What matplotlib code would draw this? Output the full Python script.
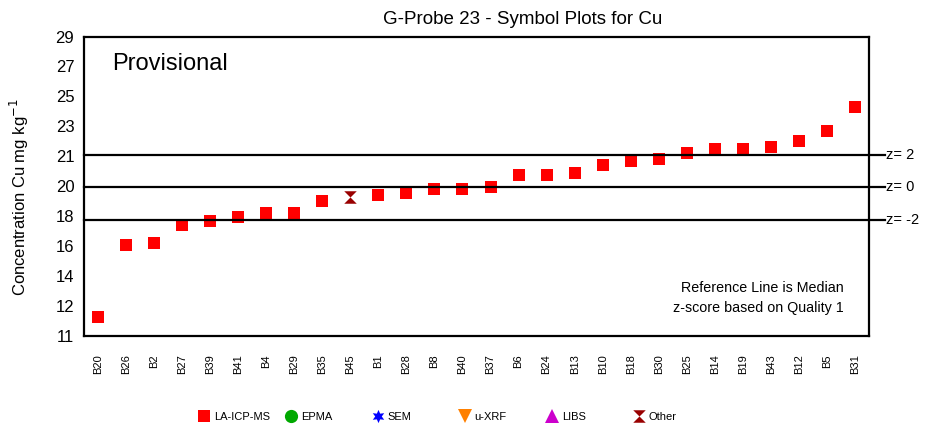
import numpy as np
import matplotlib.pyplot as plt
from matplotlib.path import Path
from matplotlib.lines import Line2D

plt.rcParams['font.family'] = ['Liberation Sans', 'DejaVu Sans']

labs = ['B20', 'B26', 'B2', 'B27', 'B39', 'B41', 'B4', 'B29', 'B35', 'B45',
        'B1', 'B28', 'B8', 'B40', 'B37', 'B6', 'B24', 'B13', 'B10', 'B18',
        'B30', 'B25', 'B14', 'B19', 'B43', 'B12', 'B5', 'B31']
vals = [12.16, 16.47, 16.61, 17.69, 17.93, 18.17, 18.41, 18.41, 19.13, 19.37,
        19.49, 19.59, 19.85, 19.85, 19.97, 20.69, 20.69, 20.81, 21.30, 21.54,
        21.66, 22.02, 22.26, 22.26, 22.38, 22.74, 23.34, 24.78]
method = ['LA-ICP-MS'] * len(vals)
method[9] = 'Other'

median = 19.95
z2 = 21.9
zm2 = 17.95

yticks = [11, 12.8, 14.6, 16.4, 18.2, 20, 21.8, 23.6, 25.4, 27.2, 29]
ytlabs = ['11', '12', '14', '16', '18', '20', '21', '23', '25', '27', '29']

# hourglass marker for "Other"
hg = Path([(-1, 1), (1, 1), (0, 0), (1, -1), (-1, -1), (0, 0), (-1, 1)],
          [1, 2, 2, 2, 2, 2, 79])

styles = {'LA-ICP-MS': dict(marker='s', color='#ff0000', ms=8.6),
          'EPMA': dict(marker='o', color='#00a800', ms=9.5),
          'SEM': dict(marker=(6, 1, 0), color='#0000ff', ms=9.5),
          'u-XRF': dict(marker='v', color='#ff8000', ms=10),
          'LIBS': dict(marker='^', color='#cc00cc', ms=10),
          'Other': dict(marker=hg, color='#990000', ms=9)}

fig = plt.figure(figsize=(9.25, 4.30), dpi=100)
ax = fig.add_axes([0.0908, 0.2186, 0.8487, 0.6964])

x = np.arange(len(vals))
for i in range(len(vals)):
    st = styles[method[i]]
    ax.plot(x[i], vals[i], linestyle='none', marker=st['marker'], color=st['color'],
            markersize=st['ms'], markeredgewidth=0)

for yv, t in [(z2, 'z= 2'), (median, 'z= 0'), (zm2, 'z= -2')]:
    ax.axhline(yv, xmin=0, xmax=1.02, color='black', lw=1.6, clip_on=False)
    ax.text(1.021, yv, t, transform=ax.get_yaxis_transform(), va='center',
            ha='left', fontsize=10.5)

ax.set_xlim(-0.5, len(vals) - 0.5)
ax.set_ylim(11, 29)
ax.set_yticks(yticks)
ax.set_yticklabels(ytlabs, fontsize=12)
ax.set_xticks(x)
ax.set_xticklabels(labs, rotation=90, fontsize=8)
ax.tick_params(length=0)
ax.tick_params(axis='x', pad=13)
ax.tick_params(axis='y', pad=7)
for s in ax.spines.values():
    s.set_linewidth(1.6)

fig.text(523 / 925, 1 - 19 / 430, 'G-Probe 23 - Symbol Plots for Cu',
         fontsize=13.5, ha='center', va='center')
fig.text(19 / 925, 1 - 197 / 430, 'Concentration Cu mg kg$^{-1}$', fontsize=12,
         rotation=90, ha='center', va='center')
ax.text(0.036, 0.91, 'Provisional', transform=ax.transAxes, fontsize=17,
        va='center', ha='left')
ax.text(0.968, 0.128, 'Reference Line is Median\nz-score based on Quality 1',
        transform=ax.transAxes, fontsize=10.3, ha='right', va='center',
        linespacing=1.55)

# legend: evenly spaced entries along the bottom
for k, key in enumerate(styles):
    st = styles[key]
    h = Line2D([], [], linestyle='none', marker=st['marker'], color=st['color'],
               markersize=st['ms'], markeredgewidth=0)
    fig.legend([h], [key], loc='center left',
               bbox_to_anchor=((197 + 87 * k) / 925, 1 - 417 / 430),
               frameon=False, fontsize=8, handletextpad=0.3, handlelength=1.2,
               borderpad=0, borderaxespad=0)

fig.savefig('out.png', dpi=100)
